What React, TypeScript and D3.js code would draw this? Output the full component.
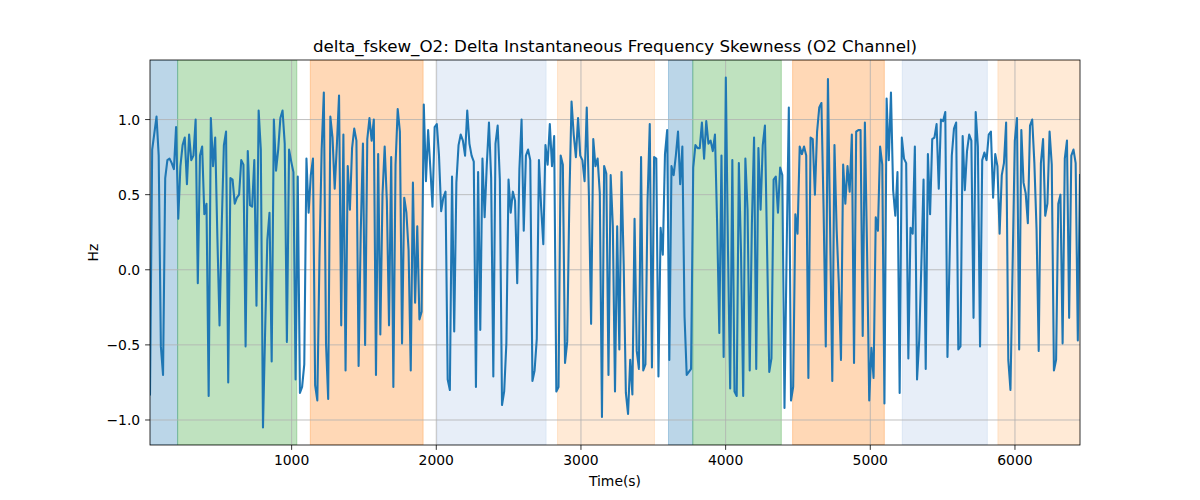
import React from 'react';
import * as d3 from 'd3';

// ---- data ----
const T0 = 21;
const STEP = 15.02;

const values: number[] = [
  // 0 - 1000 s
  -0.83, 0.80, 0.91, 1.02, 0.76, -0.51, -0.70, 0.61, 0.73, 0.74,
  0.71, 0.67, 0.95, 0.34, 0.69, 0.83, 0.88, 0.57, 0.90, 0.73,
  0.76, 1.00, -0.09, 0.76, 0.82, 0.37, 0.44, -0.84, 1.01, 0.69,
  0.88, 0.22, -0.37, 0.29, 0.83, 0.92, -0.75, 0.61, 0.60, 0.44,
  0.48, 0.50, 0.73, 0.70, -0.51, 0.79, 0.43, 0.42, 0.73, -0.24,
  1.06, 0.80, -1.05, -0.40, 0.20, 0.38, -0.61, 1.00, 0.66, 0.80,
  1.01, 1.06, 0.84, -0.48, 0.80, 0.72, 0.65, -0.73, 0.62,
  // ~1000 - 2000 s
  -0.82, -0.78, -0.63, 0.74, 0.38, 0.63, 0.74, -0.77, -0.87, 0.09,
  0.80, 1.18, -0.49, -0.86, 1.02, 0.88, 0.54, 0.83, 1.16, -0.37,
  0.90, -0.67, 0.69, 0.40, 0.81, 0.94, 0.86, -0.64, 0.26, 0.84,
  -0.50, 0.87, 1.01, 0.86, 1.00, -0.70, 0.77, -0.43, 0.50, 0.82,
  0.46, -0.37, 0.75, -0.78, 0.70, 1.07, 0.92, -0.49, 0.48, 0.38,
  0.13, -0.67, 0.58, -0.22, 0.29, -0.33, -0.28, 1.10, 0.59, 0.93,
  0.68, 0.42, 0.95, 0.97, 0.76, 0.39, 0.48, 0.52, -0.73,
  // ~2000 - 3000 s
  -0.80, 0.62, -0.41, 0.58, 0.83, 0.90, 0.86, 0.76, 1.06, 0.84,
  0.76, 0.72, -0.78, 0.65, -0.40, 0.74, 0.35, 0.70, 0.98, 0.61,
  -0.71, 0.84, 0.96, 0.60, -0.90, -0.81, -0.49, 0.60, 0.38, 0.52,
  0.46, -0.09, 0.67, 1.00, 0.26, 0.76, 0.80, 0.73, -0.74, -0.67,
  -0.46, 0.73, 0.42, 0.17, 0.83, 0.70, 0.97, 0.69, 0.89, -0.81,
  -0.78, 0.76, 0.70, -0.62, -0.48, 0.47, 1.12, 0.90, 0.75, 1.01,
  0.76, 0.73, 0.59, 1.08, 0.49, -0.36, 0.87, 0.69, 0.74,
  // ~3000 - 4000 s
  0.51, -0.98, 0.69, 0.64, -0.70, 0.63, 0.29, -0.81, 0.29, -0.53,
  0.65, 0.04, -0.82, -0.96, -0.60, -0.83, 0.34, -0.54, -0.66, 0.75,
  -0.67, -0.63, 0.47, 0.97, -0.65, 0.75, 0.74, -0.71, 0.28, 0.10,
  0.77, 0.93, -0.60, 0.69, 0.63, 0.76, 0.92, 0.57, 0.82, -0.31,
  -0.70, -0.68, -0.66, 0.68, 0.83, 0.81, 0.81, 0.98, 0.74, 0.99,
  0.84, 0.86, 0.79, 0.90, 0.31, -0.42, 0.76, -0.58, 1.28, 0.13,
  -0.79, 0.73, -0.81, -0.84, 0.71,
  // ~4000 - 5100 s
  0.11, -0.84, 0.74, 0.40, -0.67, 0.31, 0.88, -0.66, 0.81, 0.40,
  0.83, 0.96, 0.13, -0.68, -0.59, 0.60, 0.62, 0.38, 0.68, 0.63,
  -0.92, 0.13, 1.08, -0.87, -0.78, 0.37, 0.24, 0.82, 0.77, 0.82,
  0.76, -0.72, 0.88, 0.87, 0.50, 0.92, 1.08, 1.11, 0.40, -0.51,
  1.27, 0.27, -0.74, 0.83, 0.27, -0.09, -0.60, 0.70, 0.44, 0.69,
  0.52, 0.90, -0.62, 0.92, 0.93, 0.93, -0.44, 0.98, 0.13, -0.87,
  -0.52, -0.72, 0.35, 0.26, 0.82, 0.70, -0.89, 1.14, 0.73, 1.18,
  // ~5100 - 6450 s
  0.53, 0.36, 0.65, -0.82, 0.88, 0.74, 0.71, -0.59, 0.28, 0.24,
  0.82, -0.73, -0.47, 0.04, 0.60, -0.66, 0.77, 0.37, 0.87, 0.88,
  0.97, 0.54, 1.00, 0.99, 1.05, -0.58, 0.09, 0.76, 0.94, 0.98,
  -0.53, -0.51, 0.89, 0.53, 0.79, 0.90, 0.86, -0.32, 1.05, 0.82,
  -0.51, 0.73, 0.78, 0.73, 0.90, 0.92, 0.48, 0.77, 0.69, 0.24,
  0.63, 0.71, 0.98, -0.60, -0.80, 0.04, 0.86, 1.01, -0.53, 0.93,
  0.58, 0.51, 0.31, 0.96, 1.00, 0.71, 0.27, -0.54, 0.71, 0.87,
  0.36, 0.44, 0.92, 0.70, -0.67, -0.60, 0.44, 0.50, -0.49, 0.74,
  0.86, -0.32, 0.76, 0.80, 0.71, -0.47, 0.63,
];

const spanStarts = [0, 212, 1129, 2006, 2838, 3605, 3773, 4463, 5221, 5882];
const spanEnds = [212, 1036, 1909, 2759, 3508, 3773, 4385, 5097, 5809, 6500];
const spanColors = ['#1f77b4', '#2ca02c', '#ff7f0e', '#aec7e8', '#ffbb78',
  '#1f77b4', '#2ca02c', '#ff7f0e', '#aec7e8', '#ffbb78'];

const xTicks = [1000, 2000, 3000, 4000, 5000, 6000];
const yTicks = [-1.0, -0.5, 0.0, 0.5, 1.0];

const TITLE = 'delta_fskew_O2: Delta Instantaneous Frequency Skewness (O2 Channel)';
const XLABEL = 'Time(s)';
const YLABEL = 'Hz';

export default function App() {
  const W = 1200, H = 500;
  const L = 150, R = 1080, T = 60, B = 445;
  const font = 'DejaVu Sans, sans-serif';

  const times = values.map((_, i) => T0 + i * STEP);
  const x = d3.scaleLinear().domain([times[0], times[times.length - 1]]).range([L, R]);
  const [vmin, vmax] = d3.extent(values) as [number, number];
  const pad = 0.05 * (vmax - vmin);
  const y = d3.scaleLinear().domain([vmin - pad, vmax + pad]).range([B, T]);

  const line = d3.line<number>()
    .x((_, i) => x(times[i]))
    .y((d) => y(d));

  const fmtY = d3.format('.1f');

  return (
    <svg width={W} height={H} style={{ position: 'absolute', left: 0, top: 0, background: '#fff' }}>
      <defs>
        <clipPath id="plotclip">
          <rect x={L} y={T} width={R - L} height={B - T} />
        </clipPath>
      </defs>
      <rect x={0} y={0} width={W} height={H} fill="#fff" />
      <g clipPath="url(#plotclip)">
        {spanStarts.map((s, i) => (
          <rect key={i}
            x={x(s)} y={T} width={x(spanEnds[i]) - x(s)} height={B - T}
            fill={spanColors[i]} fillOpacity={0.3}
            stroke={spanColors[i]} strokeOpacity={0.3} strokeWidth={1} />
        ))}
        {xTicks.map((t) => (
          <line key={'gx' + t} x1={x(t)} x2={x(t)} y1={T} y2={B} stroke="#b0b0b0" strokeWidth={0.8} />
        ))}
        {yTicks.map((t) => (
          <line key={'gy' + t} x1={L} x2={R} y1={y(t)} y2={y(t)} stroke="#b0b0b0" strokeWidth={0.8} />
        ))}
        <path d={line(values) || ''} fill="none" stroke="#1f77b4" strokeWidth={2.08}
          strokeLinejoin="round" strokeLinecap="square" />
      </g>
      <rect x={L} y={T} width={R - L} height={B - T} fill="none" stroke="#000" strokeWidth={0.8} />
      {xTicks.map((t) => (
        <g key={'tx' + t}>
          <line x1={x(t)} x2={x(t)} y1={B} y2={B + 4.9} stroke="#000" strokeWidth={0.8} />
          <text x={x(t)} y={B + 9.8} fontFamily={font} fontSize={13.9} textAnchor="middle"
            dominantBaseline="hanging">{t}</text>
        </g>
      ))}
      {yTicks.map((t) => (
        <g key={'ty' + t}>
          <line x1={L - 4.9} x2={L} y1={y(t)} y2={y(t)} stroke="#000" strokeWidth={0.8} />
          <text x={L - 9.8} y={y(t)} fontFamily={font} fontSize={13.9} textAnchor="end"
            dominantBaseline="central">{t < 0 ? '\u2212' + fmtY(-t) : fmtY(t)}</text>
        </g>
      ))}
      <text x={(L + R) / 2} y={T - 8.3} fontFamily={font} fontSize={16.7} textAnchor="middle">{TITLE}</text>
      <text x={(L + R) / 2} y={486} fontFamily={font} fontSize={13.9} textAnchor="middle">{XLABEL}</text>
      <text transform={`translate(98, ${(T + B) / 2}) rotate(-90)`} fontFamily={font} fontSize={13.9}
        textAnchor="middle">{YLABEL}</text>
    </svg>
  );
}
